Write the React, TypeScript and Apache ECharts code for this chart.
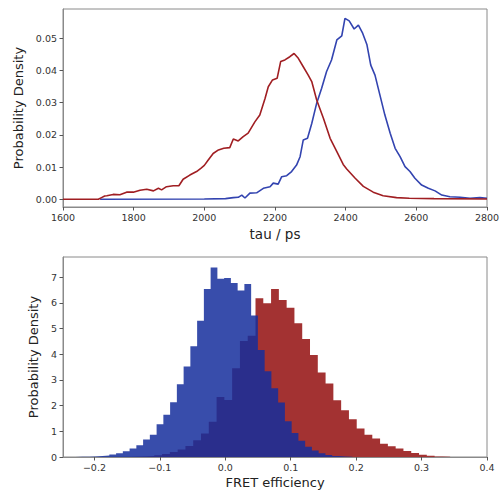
import React, { useEffect, useRef } from "react";
import * as echarts from "echarts";

// ---- Top panel: lifetime distributions ----
const tauTicks = [1600, 1800, 2000, 2200, 2400, 2600, 2800];
const densityTicks = [0, 0.01, 0.02, 0.03, 0.04, 0.05];

const tauRed = [1600, 1700, 1709, 1718, 1724, 1742, 1761, 1780, 1799, 1818, 1837, 1856, 1870, 1879, 1893, 1912, 1928, 1940, 1959, 1978, 1990, 2000, 2010, 2025, 2040, 2055, 2072, 2082, 2096, 2110, 2124, 2143, 2157, 2172, 2181, 2193, 2206, 2216, 2228, 2242, 2254, 2266, 2280, 2294, 2304, 2318, 2337, 2356, 2375, 2393, 2403, 2427, 2450, 2478, 2506, 2544, 2580, 2650, 2800];
const densityRed = [0, 0, 0.0005, 0.001, 0.0011, 0.0015, 0.0014, 0.0022, 0.0022, 0.0028, 0.0031, 0.0026, 0.0034, 0.0029, 0.0039, 0.0042, 0.0042, 0.0062, 0.0075, 0.0086, 0.0096, 0.0105, 0.012, 0.0142, 0.0153, 0.0158, 0.016, 0.0187, 0.0181, 0.0194, 0.0205, 0.024, 0.0261, 0.0313, 0.0349, 0.037, 0.0375, 0.0427, 0.0432, 0.0442, 0.0452, 0.0437, 0.0411, 0.0385, 0.0365, 0.0308, 0.0251, 0.0189, 0.0148, 0.0108, 0.0094, 0.0065, 0.004, 0.0022, 0.0011, 0.0005, 0.0003, 0.0002, 0.0001];

const tauBlue = [1705, 2000, 2060, 2082, 2096, 2106, 2115, 2129, 2148, 2167, 2186, 2195, 2209, 2219, 2233, 2247, 2261, 2271, 2280, 2292, 2304, 2318, 2332, 2346, 2360, 2375, 2389, 2398, 2410, 2424, 2436, 2448, 2460, 2471, 2483, 2497, 2511, 2526, 2540, 2554, 2568, 2582, 2596, 2615, 2634, 2653, 2672, 2695, 2724, 2752, 2780, 2800];
const densityBlue = [0, 0.0001, 0.0002, 0.0005, 0.0006, 0.0013, 0.0004, 0.0019, 0.002, 0.0034, 0.0039, 0.005, 0.0047, 0.007, 0.0073, 0.0086, 0.0106, 0.0132, 0.0184, 0.0189, 0.0235, 0.0298, 0.0344, 0.0396, 0.0432, 0.0494, 0.0507, 0.0561, 0.0553, 0.0528, 0.054, 0.0515, 0.048, 0.0416, 0.0385, 0.0323, 0.0261, 0.0205, 0.0158, 0.0132, 0.0101, 0.0086, 0.0065, 0.0044, 0.0034, 0.0026, 0.0013, 0.0008, 0.0006, 0.0003, 0.0005, 0.0003];

// ---- Bottom panel: FRET efficiency histograms ----
const fretTicks = [-0.2, -0.1, 0.0, 0.1, 0.2, 0.3, 0.4];
const pdTicks = [0, 1, 2, 3, 4, 5, 6, 7];

const blueBinStart = -0.2391;
const blueBinWidth = 0.01032;
const blueHist = [0.003, 0.006, 0.012, 0.02, 0.035, 0.06, 0.1, 0.15, 0.22, 0.33, 0.46, 0.68, 0.87, 1.27, 1.64, 2.13, 2.83, 3.52, 4.31, 5.3, 6.54, 7.37, 6.93, 6.96, 6.77, 6.48, 6.73, 5.5, 4.16, 3.34, 2.67, 2.12, 1.39, 0.93, 0.63, 0.4, 0.25, 0.15, 0.08, 0.04, 0.02, 0.01];

const redBinStart = -0.1442;
const redBinWidth = 0.0119;
const redHist = [0.01, 0.02, 0.04, 0.07, 0.12, 0.19, 0.29, 0.43, 0.65, 0.91, 1.37, 2.33, 2.22, 3.45, 4.51, 4.72, 6.18, 5.98, 6.54, 6.11, 5.81, 5.2, 4.59, 3.97, 3.29, 2.86, 2.21, 1.82, 1.47, 1.11, 0.87, 0.72, 0.52, 0.42, 0.33, 0.23, 0.16, 0.09, 0.05, 0.02, 0.01];

function stepData(start: number, width: number, heights: number[]) {
  const pts: number[][] = [[start, 0]];
  heights.forEach((h, i) => pts.push([start + i * width, h]));
  pts.push([start + heights.length * width, 0]);
  return pts;
}

const FONT = "DejaVu Sans";
const frameColor = "#8a8a8a";
const tickColor = "#555";
const labelColor = "#333";

const axisLine = { show: true, onZero: false, lineStyle: { color: frameColor, width: 1 } };

export default function App() {
  const ref = useRef<HTMLDivElement>(null);
  useEffect(() => {
    const chart = echarts.init(ref.current!, null, { renderer: "svg" });
    const minus = (v: number, d: number) => (v < -1e-9 ? "\u2212" + Math.abs(v).toFixed(d) : Math.abs(v).toFixed(d));
    chart.setOption({
      animation: false,
      backgroundColor: "#ffffff",
      grid: [
        { left: 63, top: 9, width: 424, height: 198, show: true, borderColor: frameColor, borderWidth: 1, backgroundColor: "transparent" },
        { left: 63, top: 257, width: 424, height: 200, show: true, borderColor: frameColor, borderWidth: 1, backgroundColor: "transparent" },
      ],
      xAxis: [
        {
          type: "value", gridIndex: 0, min: 1600, max: 2800, interval: 200,
          axisLine, splitLine: { show: false },
          axisLabel: { fontSize: 9.5, color: labelColor, fontFamily: FONT, margin: 5, customValues: tauTicks, formatter: (v: number) => String(v) },
          axisTick: { show: true, length: 3.5, lineStyle: { color: tickColor }, customValues: tauTicks },
          name: "tau / ps", nameLocation: "middle", nameGap: 20,
          nameTextStyle: { fontSize: 13.5, color: "#222", fontFamily: FONT },
        },
        {
          type: "value", gridIndex: 1, min: -0.248, max: 0.4,
          axisLine, splitLine: { show: false },
          axisLabel: { fontSize: 9.5, color: labelColor, fontFamily: FONT, margin: 5, customValues: fretTicks, formatter: (v: number) => minus(v, 1) },
          axisTick: { show: true, length: 3.5, lineStyle: { color: tickColor }, customValues: fretTicks },
          name: "FRET efficiency", nameLocation: "middle", nameGap: 19,
          nameTextStyle: { fontSize: 13, color: "#222", fontFamily: FONT },
        },
      ],
      yAxis: [
        {
          type: "value", gridIndex: 0, min: -0.0024, max: 0.059,
          axisLine, splitLine: { show: false },
          axisLabel: { fontSize: 9.5, color: labelColor, fontFamily: FONT, margin: 6, customValues: densityTicks, formatter: (v: number) => v.toFixed(2) },
          axisTick: { show: true, length: 3.5, lineStyle: { color: tickColor }, customValues: densityTicks },
          name: "Probability Density", nameLocation: "middle", nameGap: 34,
          nameTextStyle: { fontSize: 13, color: "#222", fontFamily: FONT },
        },
        {
          type: "value", gridIndex: 1, min: 0, max: 7.78,
          axisLine, splitLine: { show: false },
          axisLabel: { fontSize: 9.5, color: labelColor, fontFamily: FONT, margin: 6, customValues: pdTicks, formatter: (v: number) => String(Math.round(v)) },
          axisTick: { show: true, length: 3.5, lineStyle: { color: tickColor }, customValues: pdTicks },
          name: "Probability Density", nameLocation: "middle", nameGap: 18,
          nameTextStyle: { fontSize: 13, color: "#222", fontFamily: FONT },
        },
      ],
      series: [
        {
          type: "line", xAxisIndex: 0, yAxisIndex: 0, showSymbol: false, symbol: "none",
          data: tauBlue.map((t, i) => [t, densityBlue[i]]),
          lineStyle: { color: "#3344b0", width: 1.6 },
        },
        {
          type: "line", xAxisIndex: 0, yAxisIndex: 0, showSymbol: false, symbol: "none",
          data: tauRed.map((t, i) => [t, densityRed[i]]),
          lineStyle: { color: "#a01e22", width: 1.6 },
        },
        {
          type: "line", xAxisIndex: 1, yAxisIndex: 1, step: "end", showSymbol: false, symbol: "none",
          data: stepData(redBinStart, redBinWidth, redHist),
          lineStyle: { width: 0, opacity: 0 },
          areaStyle: { color: "#a33232", opacity: 1 },
        },
        {
          type: "line", xAxisIndex: 1, yAxisIndex: 1, step: "end", showSymbol: false, symbol: "none",
          data: stepData(blueBinStart, blueBinWidth, blueHist),
          lineStyle: { width: 0, opacity: 0 },
          areaStyle: { color: "#152e9c", opacity: 0.85 },
        },
      ],
    });
    return () => chart.dispose();
  }, []);
  return <div ref={ref} style={{ position: "absolute", left: 0, top: 0, width: 504, height: 496 }} />;
}
